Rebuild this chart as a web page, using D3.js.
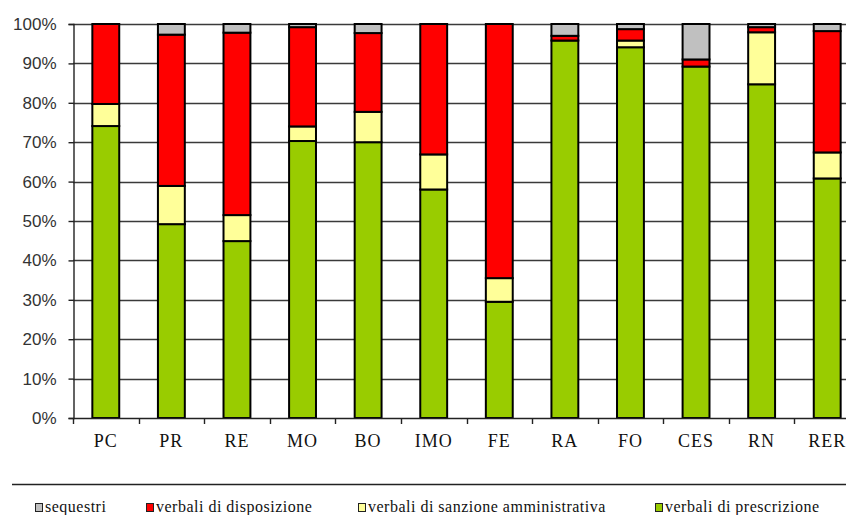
<!DOCTYPE html>
<html>
<head>
<meta charset="utf-8">
<script src="https://cdn.jsdelivr.net/npm/d3@7"></script>
<style>
  html, body { margin: 0; padding: 0; background: #fff; }
  svg { display: block; }
</style>
</head>
<body>
<svg id="chart"></svg>
<script>
const categories = ["PC", "PR", "RE", "MO", "BO", "IMO", "FE", "RA", "FO", "CES", "RN", "RER"]

// percentages, stacked bottom -> top
const prescrizione = [74.1, 49.2, 44.9, 70.3, 70.0, 58.0, 29.5, 95.8, 94.1, 89.2, 84.7, 60.8]
const sanzione     = [5.6, 9.7, 6.6, 3.7, 7.7, 8.9, 6.0, 0, 1.7, 0, 13.2, 6.6]
const disposizione = [20.3, 38.4, 46.3, 25.2, 20.0, 33.1, 64.5, 1.2, 2.9, 1.8, 1.3, 30.8]
const sequestri    = [0, 2.7, 2.2, 0.8, 2.3, 0, 0, 3.0, 1.3, 9.0, 0.8, 1.8]

const yTicks = [0, 10, 20, 30, 40, 50, 60, 70, 80, 90, 100]

const seriesKeys = ["prescrizione", "sanzione", "disposizione", "sequestri"]
const colors = {
  sequestri: "#c0c0c0",
  disposizione: "#ff0000",
  sanzione: "#ffff99",
  prescrizione: "#99cc00"
}
const legendItems = [
  { key: "sequestri", label: "sequestri", x: 35 },
  { key: "disposizione", label: "verbali di disposizione", x: 146 },
  { key: "sanzione", label: "verbali di sanzione amministrativa", x: 358 },
  { key: "prescrizione", label: "verbali di prescrizione", x: 655 }
]

const table = categories.map((c, i) => ({
  cat: c,
  prescrizione: prescrizione[i],
  sanzione: sanzione[i],
  disposizione: disposizione[i],
  sequestri: sequestri[i]
}))

const width = 846, height = 515
const plot = { left: 73, top: 24, bottom: 418, right: 860 }

const svg = d3.select("#chart")
  .attr("width", width)
  .attr("height", height)

const x = d3.scaleBand()
  .domain(categories)
  .range([plot.left, plot.right])
  .paddingInner(0.59)
  .paddingOuter(0.295)

const y = d3.scaleLinear()
  .domain([0, 100])
  .range([plot.bottom, plot.top])

// gridlines
svg.append("g")
  .attr("class", "grid")
  .selectAll("line")
  .data(yTicks.filter(d => d > 0))
  .enter().append("line")
  .attr("x1", plot.left)
  .attr("x2", plot.right)
  .attr("y1", d => Math.round(y(d)) + 0.5)
  .attr("y2", d => Math.round(y(d)) + 0.5)
  .attr("stroke", "#3a3a3a")
  .attr("stroke-width", 1.4)

// y axis
const yAxis = svg.append("g")
  .attr("transform", `translate(${plot.left + 0.5},0)`)
  .call(d3.axisLeft(y).tickValues(yTicks).tickFormat(d => d + "%").tickSize(5).tickPadding(12))
yAxis.select(".domain").attr("stroke", "#222").attr("stroke-width", 1.4)
yAxis.selectAll(".tick line").attr("stroke", "#222").attr("stroke-width", 1.4)
yAxis.selectAll("text")
  .attr("font-family", "'Liberation Sans', Arial, sans-serif")
  .attr("font-size", 17)
  .attr("fill", "#333")

// stacked bars
const stacked = d3.stack().keys(seriesKeys)(table)

svg.append("g")
  .attr("class", "bars")
  .selectAll("g")
  .data(stacked)
  .enter().append("g")
  .attr("fill", d => colors[d.key])
  .selectAll("rect")
  .data(d => d.filter(s => s[1] - s[0] > 0))
  .enter().append("rect")
  .attr("x", d => x(d.data.cat))
  .attr("y", d => y(d[1]))
  .attr("width", x.bandwidth())
  .attr("height", d => y(d[0]) - y(d[1]))
  .attr("stroke", "#000")
  .attr("stroke-width", 2)

// x axis baseline + ticks at band boundaries
const bounds = categories.map(c => x(c) + x.bandwidth() / 2 - x.step() / 2)
bounds.push(plot.right)

const xAxis = svg.append("g").attr("class", "x-axis")
xAxis.append("line")
  .attr("x1", plot.left)
  .attr("x2", plot.right)
  .attr("y1", plot.bottom + 0.5)
  .attr("y2", plot.bottom + 0.5)
  .attr("stroke", "#222")
  .attr("stroke-width", 1.4)
xAxis.selectAll("line.tk")
  .data(bounds)
  .enter().append("line")
  .attr("class", "tk")
  .attr("x1", d => Math.round(d) + 0.5)
  .attr("x2", d => Math.round(d) + 0.5)
  .attr("y1", plot.bottom)
  .attr("y2", plot.bottom + 6)
  .attr("stroke", "#222")
  .attr("stroke-width", 1.4)
xAxis.selectAll("text")
  .data(categories)
  .enter().append("text")
  .attr("x", d => x(d) + x.bandwidth() / 2)
  .attr("y", 447)
  .attr("text-anchor", "middle")
  .attr("font-family", "'Liberation Serif', 'Times New Roman', serif")
  .attr("font-size", 18)
  .attr("letter-spacing", 1)
  .attr("fill", "#111")
  .text(d => d)

// legend
svg.append("line")
  .attr("x1", 12).attr("x2", width)
  .attr("y1", 484.5).attr("y2", 484.5)
  .attr("stroke", "#222")
  .attr("stroke-width", 1.6)

const legend = svg.append("g").attr("class", "legend")
const item = legend.selectAll("g")
  .data(legendItems)
  .enter().append("g")
  .attr("transform", d => `translate(${d.x},0)`)
item.append("rect")
  .attr("x", 0.5).attr("y", 503.5)
  .attr("width", 7).attr("height", 8)
  .attr("fill", d => colors[d.key])
  .attr("stroke", "#222")
  .attr("stroke-width", 1)
item.append("text")
  .attr("x", 10)
  .attr("y", 512)
  .attr("font-family", "'Liberation Serif', 'Times New Roman', serif")
  .attr("font-size", 16)
  .attr("letter-spacing", 0.5)
  .attr("fill", "#111")
  .text(d => d.label)
</script>
</body>
</html>
